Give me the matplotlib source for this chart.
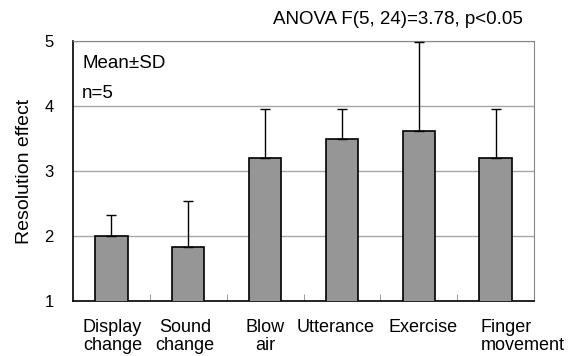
import numpy as np
import matplotlib
matplotlib.use('Agg')
import matplotlib.pyplot as plt
import matplotlib.transforms as mtransforms

plt.rcParams['font.family'] = ['Liberation Sans', 'DejaVu Sans']

categories = ['Display\nchange', 'Sound\nchange', 'Blow\nair',
              'Utterance', 'Exercise', 'Finger\nmovement']
means = [2.0, 1.83, 3.2, 3.5, 3.62, 3.2]
sds = [0.33, 0.71, 0.75, 0.45, 1.36, 0.75]

fig = plt.figure(figsize=(5.79, 3.56), dpi=100)
ax = fig.add_axes([73 / 579, 1 - 301 / 356, 461 / 579, 260 / 356])

x = np.arange(len(categories))
ax.bar(x, means, width=0.42, bottom=0, color='#969696', edgecolor='black',
       linewidth=1.2, zorder=3)
ax.errorbar(x, means, yerr=[np.zeros(len(sds)), sds], fmt='none',
            ecolor='black', elinewidth=1, capsize=3.5, capthick=1, zorder=4)

ax.set_xlim(-0.5, len(categories) - 0.5)
ax.set_ylim(1, 5)
ax.set_yticks([1, 2, 3, 4, 5])
ax.tick_params(axis='y', length=0, labelsize=12, pad=14)
ax.yaxis.grid(True, color='#a6a6a6', linewidth=1, zorder=0)

ax.set_xticks(x)
ax.set_xticklabels(categories, fontsize=13, linespacing=1.1)
ax.set_xticks(np.arange(0.5, len(categories) - 1), minor=True)
ax.tick_params(axis='x', which='major', length=0, pad=13)
ax.tick_params(axis='x', which='minor', direction='in', length=5,
               color='#888888')

# small horizontal nudges of labels, as in the original layout
shifts = [1, -3, 0, -6, 4, 27]
for lab, dx in zip(ax.get_xticklabels(), shifts):
    lab.set_multialignment('left' if '\n' in lab.get_text() and dx > 10 else 'center')
    lab.set_transform(lab.get_transform() +
                      mtransforms.ScaledTranslation(dx / 100, 0, fig.dpi_scale_trans))

for s in ['top', 'right']:
    ax.spines[s].set_color('#888888')
for s in ['left', 'bottom']:
    ax.spines[s].set_color('black')
    ax.spines[s].set_linewidth(1.2)

ax.set_ylabel('Resolution effect', fontsize=14, labelpad=8)
ax.text(0.02, 0.915, 'Mean±SD', transform=ax.transAxes, fontsize=13.5,
        va='center', ha='left')
ax.text(0.02, 0.80, 'n=5', transform=ax.transAxes, fontsize=13.5,
        va='center', ha='left')
fig.text(523 / 579, 1 - 20 / 356, 'ANOVA F(5, 24)=3.78, p<0.05',
         fontsize=13.5, ha='right', va='center')

fig.savefig('out.png', dpi=100, facecolor='white')
